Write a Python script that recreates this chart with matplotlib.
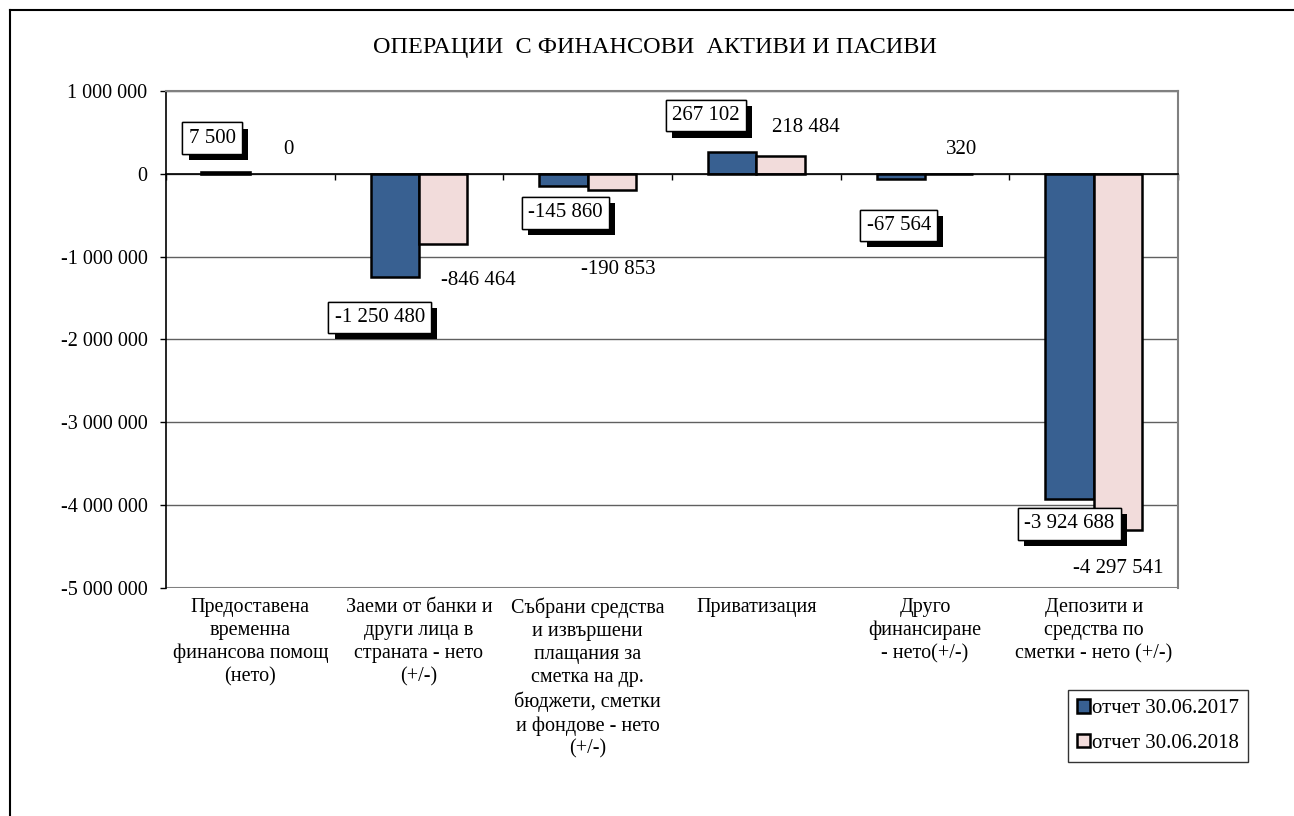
import matplotlib
matplotlib.use("Agg")
import matplotlib.pyplot as plt
import matplotlib.patheffects as pe
from matplotlib.lines import Line2D
from matplotlib.patches import Patch
from matplotlib.ticker import FuncFormatter, FixedLocator
import numpy as np

plt.rcParams['font.family'] = ['Liberation Serif', 'DejaVu Serif']

categories = [
    "Предоставена\nвременна\nфинансова помощ\n(нето)",
    "Заеми от банки и\nдруги лица в\nстраната - нето\n(+/-)",
    "Събрани средства\nи извършени\nплащания за\nсметка на др.\nбюджети, сметки\nи фондове - нето\n(+/-)",
    "Приватизация",
    "Друго\nфинансиране\n- нето(+/-)",
    "Депозити и\nсредства по\nсметки - нето (+/-)",
]
series_names = ["отчет 30.06.2017", "отчет 30.06.2018"]
values_2017 = [7500, -1250480, -145860, 267102, -67564, -3924688]
values_2018 = [0, -846464, -190853, 218484, 320, -4297541]
y_ticks = [1000000, 0, -1000000, -2000000, -3000000, -4000000, -5000000]

color_2017 = "#386091"
color_2018 = "#F2DCDB"

# label offsets in pixels (dx, dy) from bar end
off_2017 = [(-14, 35), (-15, -40), (2, -27), (-26, 36), (-2, -46), (0, -25)]
off_2018 = [(14, 24), (35, -37), (6, -80), (25, 28), (12, 24), (0, -39)]

def fmt(v):
    s = f"{abs(int(v)):,}".replace(",", " ")
    return ("-" if v < 0 else "") + s

W, H = 1294, 816
fig = plt.figure(figsize=(W / 100, H / 100), dpi=100)
ax = fig.add_axes([166 / W, 1 - 588 / H, (1178 - 166) / W, (588 - 91) / H])

x = np.arange(len(categories))
bw = 0.2875
b1 = ax.bar(x - bw / 2, values_2017, bw, color=color_2017, edgecolor="black", linewidth=1.8, zorder=3)
b2 = ax.bar(x + bw / 2, values_2018, bw, color=color_2018, edgecolor="black", linewidth=1.8, zorder=3)
for r, v in zip(b1, values_2017):
    if abs(v) < 20000:
        r.set_linewidth(2.6)
for r, v in zip(b2, values_2018):
    if v == 0:
        r.set_linewidth(0)

ax.set_xlim(-0.5, len(categories) - 0.5)
ax.set_ylim(-5000000, 1000000)
ax.yaxis.set_major_locator(FixedLocator(y_ticks))
ax.yaxis.set_major_formatter(FuncFormatter(lambda v, p: fmt(v)))
ax.tick_params(axis="y", labelsize=14.5, length=4.3, width=1, direction="out", pad=9)
ax.grid(axis="y", color="#606060", linewidth=1, zorder=0)

ax.spines["bottom"].set_position(("data", 0))
ax.spines["bottom"].set_color("black")
ax.spines["bottom"].set_linewidth(1.2)
ax.spines["bottom"].set_zorder(4)
ax.spines["left"].set_color("black")
ax.spines["left"].set_linewidth(1.2)
ax.spines["top"].set_color("#808080")
ax.spines["right"].set_color("#808080")
ax.spines["top"].set_linewidth(1.5)
ax.spines["right"].set_linewidth(1.5)
ax.axhline(-5000000, color="#808080", linewidth=1.5, zorder=2)

ax.set_xticks(np.arange(len(categories) + 1) - 0.5)
ax.set_xticklabels([])
ax.tick_params(axis="x", length=4, width=1, direction="out")

trans = ax.get_xaxis_transform()
for i, c in enumerate(categories):
    ax.text(i, -0.02, c, transform=trans, ha="center", va="top", fontsize=14.5, linespacing=1.28)

shadow = [pe.withSimplePatchShadow(offset=(4.5, -4.5), shadow_rgbFace="black", alpha=1.0), pe.Normal()]
for i, (v, (dx, dy)) in enumerate(zip(values_2017, off_2017)):
    t = ax.annotate(fmt(v), (x[i] - bw / 2, v), xytext=(dx, dy), textcoords="offset pixels",
                    ha="center", va="center", fontsize=15, zorder=6,
                    bbox=dict(boxstyle="square,pad=0.3", facecolor="white", edgecolor="black", linewidth=1))
    t.get_bbox_patch().set_path_effects(shadow)
for i, (v, (dx, dy)) in enumerate(zip(values_2018, off_2018)):
    ax.annotate(fmt(v), (x[i] + bw / 2, v), xytext=(dx, dy), textcoords="offset pixels",
                ha="center", va="center", fontsize=15, zorder=6)

fig.text(655 / W, 1 - 47 / H, "ОПЕРАЦИИ  С ФИНАНСОВИ  АКТИВИ И ПАСИВИ", ha="center", va="center", fontsize=17.5)

handles = [Patch(facecolor=color_2017, edgecolor="black", linewidth=1.8, label=series_names[0]),
           Patch(facecolor=color_2018, edgecolor="black", linewidth=1.8, label=series_names[1])]
leg = fig.legend(handles=handles, loc="upper left", bbox_to_anchor=(1068 / W, 1 - 690 / H),
                 fontsize=15, frameon=True, fancybox=False, handlelength=0.6, handleheight=0.6,
                 handletextpad=0.1, borderpad=0.45, labelspacing=0.75, borderaxespad=0)
leg.get_frame().set_edgecolor("black")
leg.get_frame().set_linewidth(1)

# outer chart border (top and left visible)
fig.add_artist(Line2D([10 / W, 1], [1 - 10 / H, 1 - 10 / H], transform=fig.transFigure, color="black", linewidth=1.5))
fig.add_artist(Line2D([10 / W, 10 / W], [1 - 10 / H, 0], transform=fig.transFigure, color="black", linewidth=1.5))

fig.savefig("out.png", dpi=100)
